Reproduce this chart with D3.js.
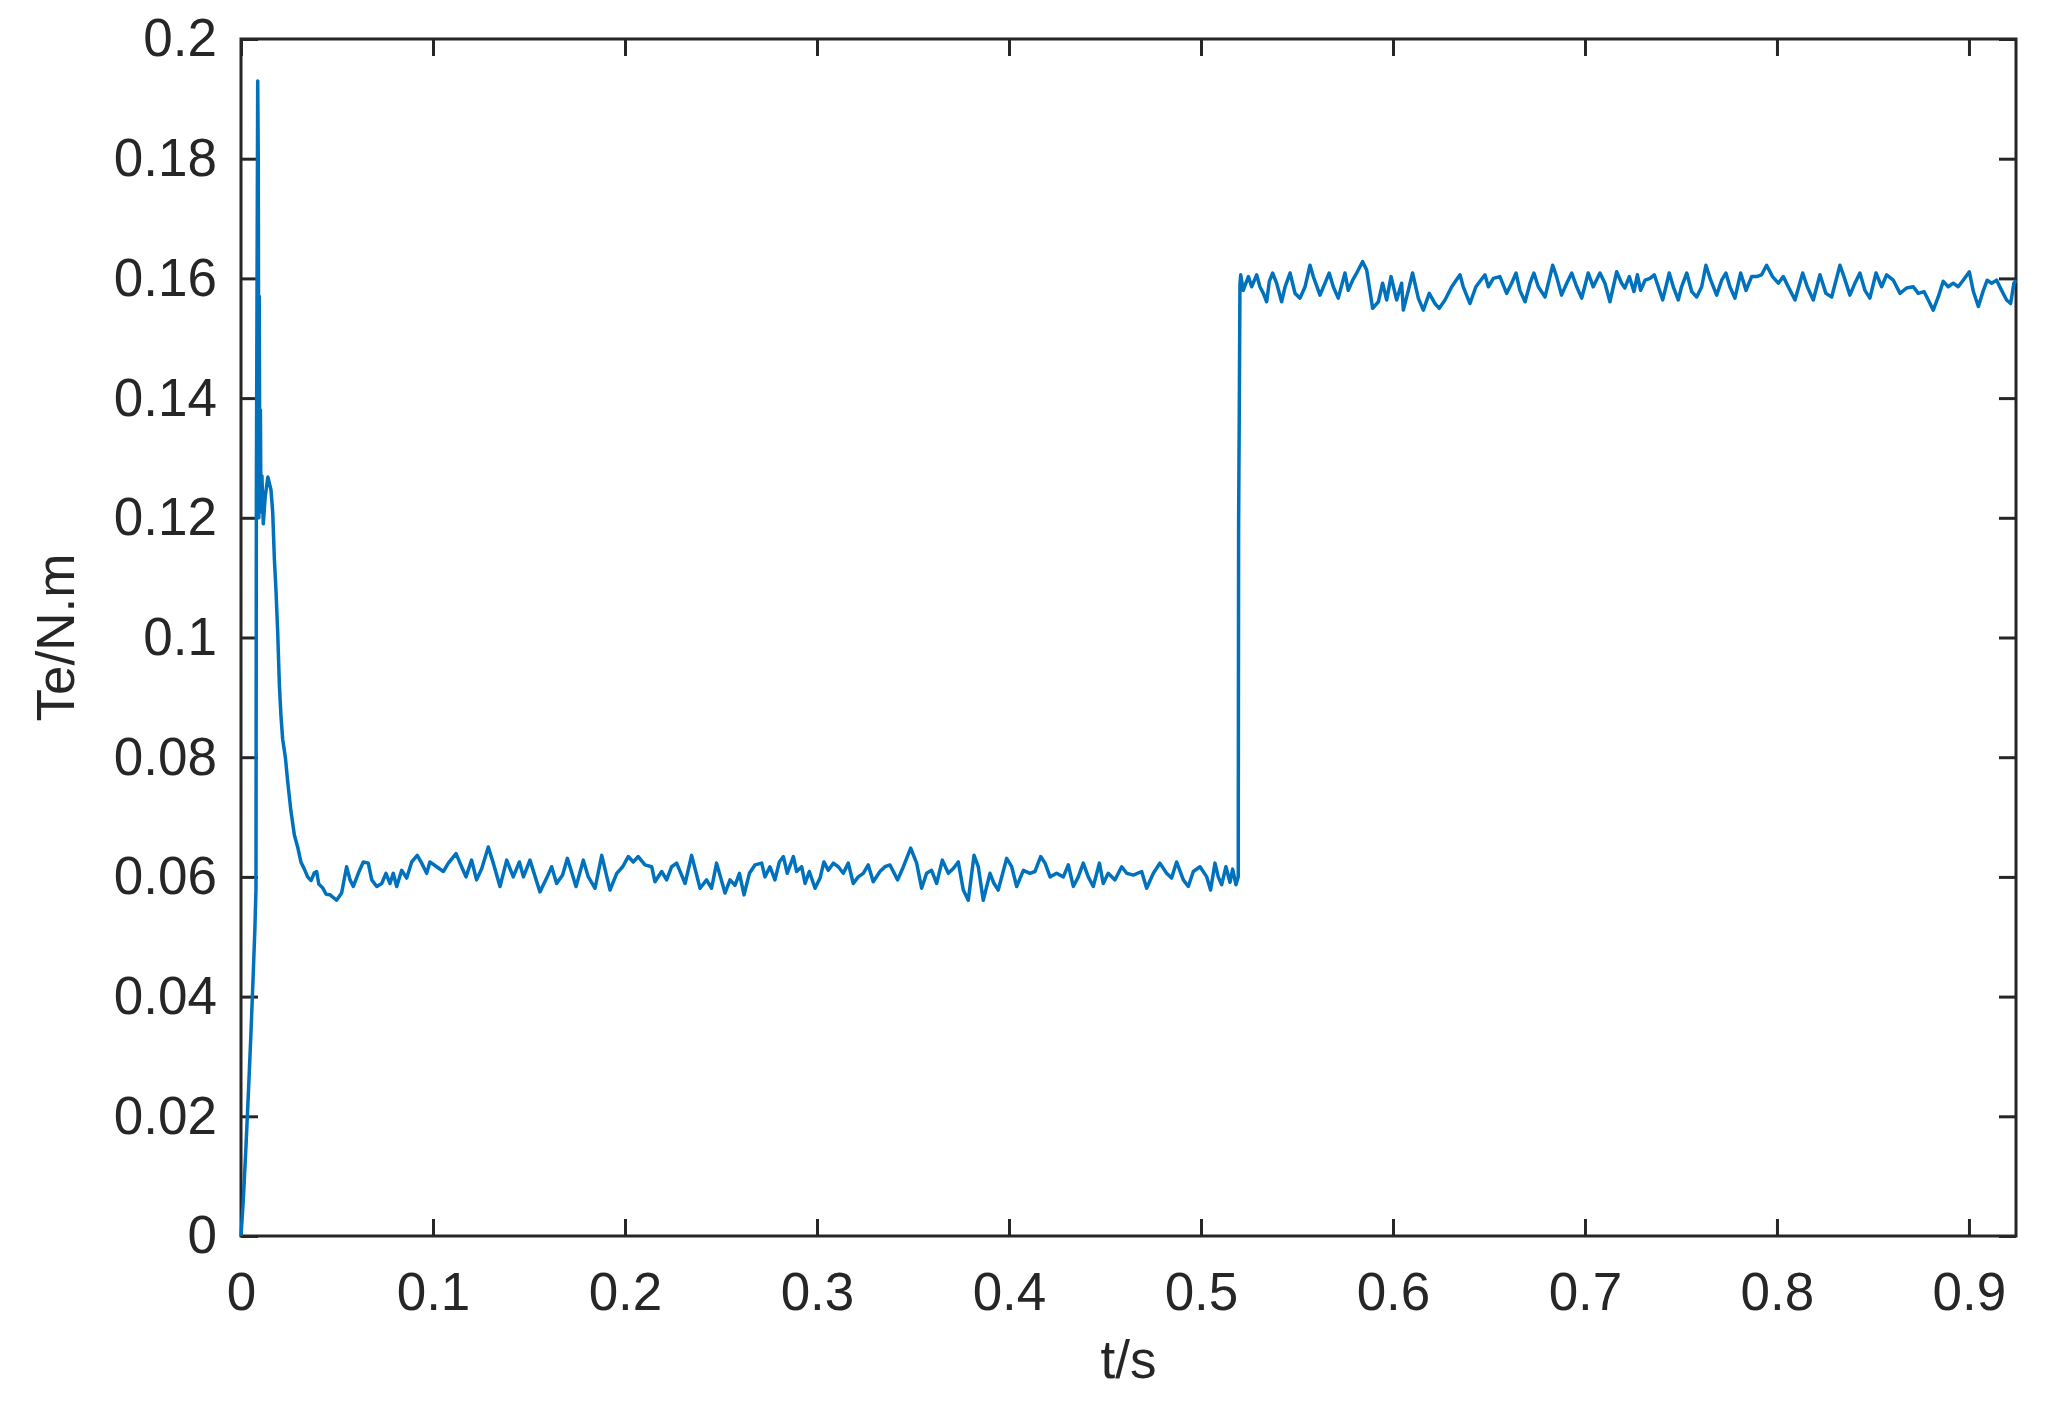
<!DOCTYPE html>
<html>
<head>
<meta charset="utf-8">
<script src="https://cdn.jsdelivr.net/npm/d3@7"></script>
<style>
  html, body { margin: 0; padding: 0; background: #fff; }
  svg { display: block; }
  text { font-family: "Liberation Sans", Arial, Helvetica, sans-serif; fill: #262626; }
</style>
</head>
<body>
<svg id="chart" width="2046" height="1407"></svg>
<script>
// Electromagnetic torque Te (N.m) vs time t (s)

// start-up transient
const startT  = [0, 0.0012, 0.0026, 0.0040, 0.0052, 0.0064, 0.0072, 0.0078, 0.0080, 0.0087,
                 0.0090, 0.0093, 0.0095, 0.0098, 0.0101, 0.0104, 0.0109, 0.0116, 0.0126, 0.0140,
                 0.0156, 0.0165, 0.0174, 0.0182, 0.0191, 0.0200, 0.0208, 0.0217, 0.0231, 0.0243,
                 0.0260, 0.0278, 0.0295, 0.0312, 0.0330, 0.0347, 0.0365, 0.0382, 0.0394, 0.0405,
                 0.0425, 0.0443];
const startTe = [0, 0.006, 0.015, 0.025, 0.034, 0.044, 0.051, 0.058, 0.124, 0.193,
                 0.180, 0.120, 0.157, 0.122, 0.138, 0.121, 0.127, 0.119, 0.1235, 0.1268,
                 0.1247, 0.121, 0.113, 0.108, 0.101, 0.092, 0.087, 0.083, 0.080, 0.076,
                 0.071, 0.067, 0.065, 0.0625, 0.0613, 0.060, 0.0594, 0.0607, 0.0609, 0.0588,
                 0.0582, 0.0571];

// light load, first part
const lowT  = [0.0464,0.0498,0.0524,0.0550,0.0568,0.0585,0.0611,0.0637,0.0663,0.0681,
               0.0707,0.0733,0.0755,0.0776,0.0793,0.0811,0.0837,0.0863,0.0889,0.0918,
               0.0941,0.0967,0.0984,0.1019,0.1054,0.1080,0.1120,0.1149,0.1172,0.1201,
               0.1227,0.1254,0.1288,0.1314,0.1349,0.1384,0.1418,0.1450,0.1471,0.1505,
               0.1557,0.1592,0.1618,0.1644,0.1675,0.1700,0.1745,0.1783,0.1809,0.1844,
               0.1879,0.1922,0.1957,0.1988,0.2017,0.2043,0.2069,0.2104,0.2139,0.2156,
               0.2191,0.2217,0.2243,0.2269,0.2313,0.2347,0.2391,0.2425,0.2451,0.2477,
               0.2521,0.2547,0.2573,0.2596,0.2620,0.2648,0.2677,0.2712,0.2729,0.2755,
               0.2781,0.2804];
const lowTe = [0.0570,0.0561,0.0573,0.0617,0.0595,0.0584,0.0606,0.0625,0.0623,0.0595,
               0.0584,0.0589,0.0606,0.0589,0.0606,0.0584,0.0611,0.0598,0.0625,0.0636,
               0.0623,0.0606,0.0625,0.0617,0.0609,0.0623,0.0639,0.0617,0.0600,0.0628,
               0.0595,0.0614,0.0650,0.0623,0.0584,0.0628,0.0600,0.0625,0.0600,0.0628,
               0.0575,0.0598,0.0617,0.0589,0.0603,0.0631,0.0584,0.0628,0.0600,0.0581,
               0.0636,0.0578,0.0606,0.0617,0.0634,0.0625,0.0634,0.0620,0.0617,0.0592,
               0.0609,0.0595,0.0617,0.0623,0.0589,0.0636,0.0581,0.0595,0.0581,0.0623,
               0.0573,0.0595,0.0586,0.0606,0.0570,0.0606,0.0620,0.0623,0.0600,0.0617,
               0.0595,0.0625];

// light load, second part up to the load step
const midT  = [0.2825,0.2845,0.2877,0.2894,0.2920,0.2938,0.2960,0.2990,0.3016,0.3036,
               0.3059,0.3085,0.3111,0.3137,0.3163,0.3189,0.3215,0.3241,0.3267,0.3293,
               0.3328,0.3354,0.3380,0.3420,0.3450,0.3488,0.3519,0.3545,0.3571,0.3597,
               0.3623,0.3653,0.3684,0.3710,0.3736,0.3762,0.3788,0.3818,0.3840,0.3866,
               0.3901,0.3922,0.3944,0.3988,0.4014,0.4040,0.4075,0.4109,0.4135,0.4165,
               0.4188,0.4214,0.4248,0.4283,0.4309,0.4335,0.4361,0.4387,0.4413,0.4439,
               0.4471,0.4491,0.4517,0.4552,0.4587,0.4613,0.4648,0.4691,0.4717,0.4752,
               0.4786,0.4821,0.4847,0.4873,0.4908,0.4934,0.4960,0.4995,0.5030,0.5050,
               0.5073,0.5090,0.5108,0.5130,0.5151,0.5165,0.5182,0.5194];
const midTe = [0.0634,0.0606,0.0634,0.0609,0.0617,0.0589,0.0609,0.0581,0.0598,0.0625,
               0.0611,0.0623,0.0617,0.0606,0.0623,0.0589,0.0600,0.0606,0.0620,0.0592,
               0.0609,0.0617,0.0620,0.0595,0.0617,0.0648,0.0623,0.0581,0.0606,0.0611,
               0.0589,0.0628,0.0606,0.0614,0.0625,0.0578,0.0561,0.0636,0.0617,0.0561,
               0.0606,0.0589,0.0578,0.0631,0.0617,0.0584,0.0611,0.0606,0.0609,0.0634,
               0.0623,0.0600,0.0606,0.0600,0.0620,0.0584,0.0600,0.0623,0.0600,0.0584,
               0.0623,0.0589,0.0606,0.0595,0.0617,0.0606,0.0603,0.0609,0.0581,0.0606,
               0.0623,0.0606,0.0598,0.0625,0.0595,0.0584,0.0609,0.0617,0.0600,0.0578,
               0.0623,0.0600,0.0587,0.0617,0.0591,0.0613,0.0587,0.0600];

// load step at ~0.52 s
const stepT  = [0.5196, 0.5199, 0.5203];
const stepTe = [0.119, 0.135, 0.159];

// heavy load
const highT  = [0.5207,0.5220,0.5234,0.5247,0.5264,0.5290,0.5307,0.5325,0.5342,0.5356,
                0.5373,0.5394,0.5420,0.5438,0.5464,0.5490,0.5516,0.5542,0.5568,0.5585,
                0.5620,0.5646,0.5668,0.5689,0.5715,0.5750,0.5767,0.5790,0.5811,0.5842,
                0.5863,0.5894,0.5924,0.5946,0.5967,0.5990,0.6019,0.6045,0.6054,0.6080,
                0.6102,0.6132,0.6158,0.6189,0.6219,0.6241,0.6271,0.6306,0.6349,0.6366,
                0.6401,0.6432,0.6479,0.6497,0.6523,0.6557,0.6592,0.6618,0.6641,0.6661,
                0.6688,0.6714,0.6734,0.6757,0.6792,0.6832,0.6852,0.6878,0.6905,0.6931,
                0.6957,0.6983,0.7017,0.7043,0.7078,0.7104,0.7130,0.7165,0.7191,0.7208,
                0.7231];
const highTe = [0.1606,0.1580,0.1592,0.1603,0.1586,0.1606,0.1586,0.1575,0.1561,0.1595,
                0.1609,0.1592,0.1561,0.1586,0.1609,0.1575,0.1567,0.1586,0.1622,0.1603,
                0.1572,0.1592,0.1609,0.1586,0.1567,0.1609,0.1580,0.1597,0.1609,0.1628,
                0.1614,0.1550,0.1561,0.1592,0.1564,0.1603,0.1564,0.1592,0.1547,0.1580,
                0.1609,0.1567,0.1547,0.1575,0.1558,0.1550,0.1564,0.1586,0.1606,0.1586,
                0.1558,0.1586,0.1606,0.1586,0.1600,0.1603,0.1575,0.1592,0.1609,0.1580,
                0.1561,0.1592,0.1609,0.1586,0.1569,0.1622,0.1603,0.1572,0.1592,0.1609,
                0.1586,0.1567,0.1609,0.1586,0.1609,0.1592,0.1561,0.1611,0.1592,0.1584,
                0.1603];

const endT  = [0.7255,0.7273,0.7290,0.7313,0.7339,0.7361,0.7382,0.7405,0.7439,0.7460,
               0.7486,0.7503,0.7530,0.7556,0.7582,0.7608,0.7630,0.7655,0.7686,0.7712,
               0.7734,0.7755,0.7781,0.7811,0.7839,0.7868,0.7894,0.7920,0.7946,0.7977,
               0.8007,0.8033,0.8059,0.8094,0.8134,0.8158,0.8189,0.8224,0.8255,0.8285,
               0.8328,0.8349,0.8380,0.8406,0.8432,0.8458,0.8484,0.8516,0.8545,0.8571,
               0.8606,0.8641,0.8675,0.8710,0.8736,0.8766,0.8788,0.8814,0.8840,0.8866,
               0.8892,0.8918,0.8944,0.8970,0.9002,0.9023,0.9049,0.9075,0.9095,0.9118,
               0.9144,0.9170,0.9196,0.9217,0.9234,0.9245];
const endTe = [0.1578,0.1606,0.1580,0.1597,0.1600,0.1606,0.1586,0.1564,0.1609,0.1586,
               0.1564,0.1586,0.1609,0.1578,0.1569,0.1586,0.1622,0.1597,0.1572,0.1597,
               0.1609,0.1586,0.1567,0.1609,0.1580,0.1603,0.1603,0.1606,0.1622,0.1603,
               0.1592,0.1603,0.1586,0.1564,0.1609,0.1586,0.1564,0.1606,0.1575,0.1569,
               0.1622,0.1603,0.1572,0.1592,0.1609,0.1580,0.1567,0.1609,0.1586,0.1606,
               0.1597,0.1575,0.1584,0.1586,0.1575,0.1578,0.1564,0.1547,0.1569,0.1595,
               0.1586,0.1592,0.1586,0.1597,0.1611,0.1578,0.1553,0.1580,0.1597,0.1592,
               0.1597,0.1580,0.1564,0.1558,0.1592,0.1597];

// axes
const xDomain = [0, 0.9245];
const yDomain = [0, 0.2];
const xTicks = [0, 0.1, 0.2, 0.3, 0.4, 0.5, 0.6, 0.7, 0.8, 0.9];
const xTickLabels = ["0", "0.1", "0.2", "0.3", "0.4", "0.5", "0.6", "0.7", "0.8", "0.9"];
const yTicks = [0, 0.02, 0.04, 0.06, 0.08, 0.1, 0.12, 0.14, 0.16, 0.18, 0.2];
const yTickLabels = ["0", "0.02", "0.04", "0.06", "0.08", "0.1", "0.12", "0.14", "0.16", "0.18", "0.2"];
const xTitle = "t/s";
const yTitle = "Te/N.m";

function drawChart() {
  const svg = d3.select("#chart");
  const left = 241, right = 2016, top = 39, bottom = 1236;
  const tickLen = 17;
  const axisColor = "#262626";

  const x = d3.scaleLinear().domain(xDomain).range([left, right]);
  const y = d3.scaleLinear().domain(yDomain).range([bottom, top]);

  // stitch the segments together
  const times = [].concat(startT, lowT, midT, stepT, highT, endT);
  const torque = [].concat(startTe, lowTe, midTe, stepTe, highTe, endTe);
  const data = times.map((t, i) => [t, torque[i]]);

  const styleAxis = g => {
    g.select(".domain").remove();
    g.selectAll(".tick line").attr("stroke", axisColor).attr("stroke-width", 3);
    g.selectAll(".tick text")
      .attr("fill", axisColor)
      .attr("font-size", "53px")
      .attr("font-family", "'Liberation Sans', Arial, Helvetica, sans-serif");
  };

  // bottom + left with labels, ticks pointing inward
  svg.append("g")
    .attr("transform", `translate(0,${bottom})`)
    .call(d3.axisBottom(x).tickValues(xTicks)
      .tickFormat((d, i) => xTickLabels[i])
      .tickSizeInner(-tickLen).tickSizeOuter(0).tickPadding(36))
    .call(styleAxis);

  svg.append("g")
    .attr("transform", `translate(${left},0)`)
    .call(d3.axisLeft(y).tickValues(yTicks)
      .tickFormat((d, i) => yTickLabels[i])
      .tickSizeInner(-tickLen).tickSizeOuter(0).tickPadding(24))
    .call(styleAxis);

  // mirrored ticks on top + right
  svg.append("g")
    .attr("transform", `translate(0,${top})`)
    .call(d3.axisTop(x).tickValues(xTicks).tickFormat("")
      .tickSizeInner(-tickLen).tickSizeOuter(0))
    .call(styleAxis);

  svg.append("g")
    .attr("transform", `translate(${right},0)`)
    .call(d3.axisRight(y).tickValues(yTicks).tickFormat("")
      .tickSizeInner(-tickLen).tickSizeOuter(0))
    .call(styleAxis);

  // box
  svg.append("rect")
    .attr("x", left).attr("y", top)
    .attr("width", right - left).attr("height", bottom - top)
    .attr("fill", "none")
    .attr("stroke", axisColor)
    .attr("stroke-width", 3);

  // torque trace
  const line = d3.line().x(d => x(d[0])).y(d => y(d[1]));
  svg.append("path")
    .datum(data)
    .attr("d", line)
    .attr("fill", "none")
    .attr("stroke", "#0072BD")
    .attr("stroke-width", 3.5)
    .attr("stroke-linejoin", "round");

  // axis titles
  svg.append("text")
    .attr("x", (left + right) / 2)
    .attr("y", 1378)
    .attr("text-anchor", "middle")
    .attr("font-size", "53px")
    .text(xTitle);

  svg.append("text")
    .attr("transform", `translate(74,${(top + bottom) / 2}) rotate(-90)`)
    .attr("text-anchor", "middle")
    .attr("font-size", "53px")
    .text(yTitle);
}

drawChart();
</script>
</body>
</html>
